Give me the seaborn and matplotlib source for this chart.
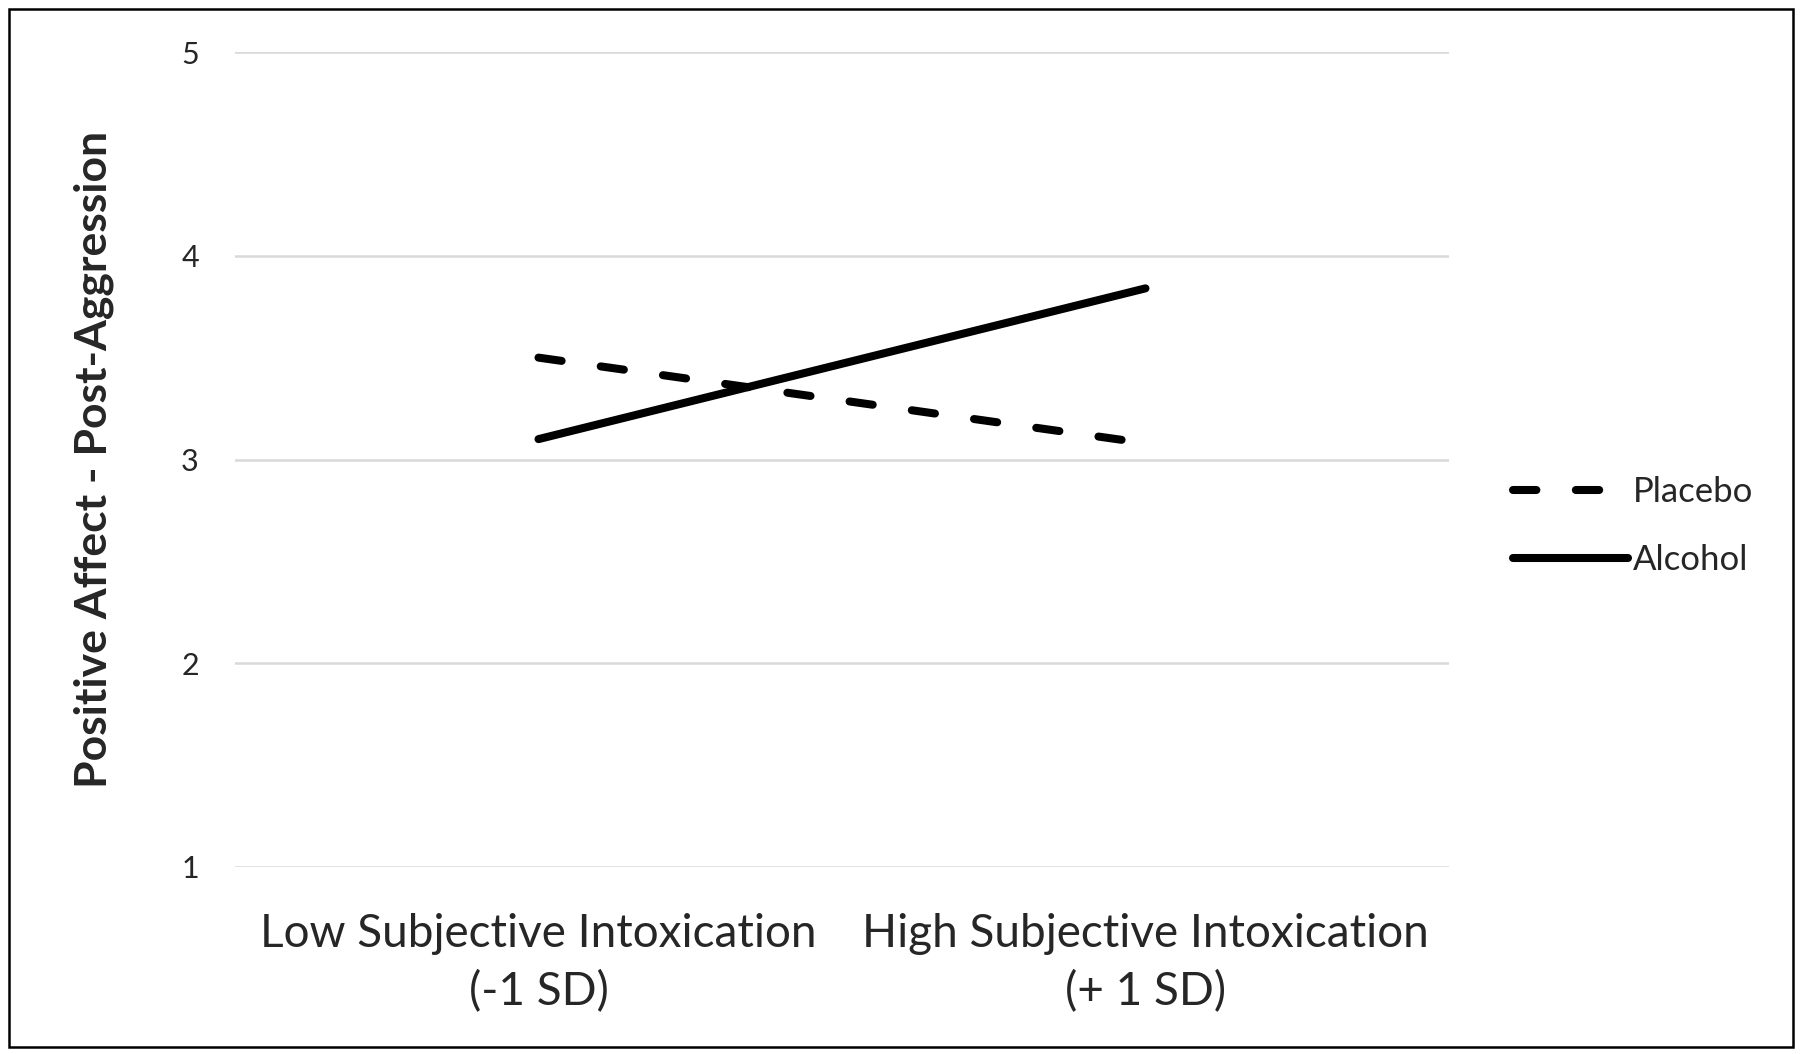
import pandas as pd
import matplotlib.pyplot as plt
import seaborn as sns
from matplotlib.patches import Rectangle

# values
levels    = ["Low Subjective Intoxication\n(-1 SD)", "High Subjective Intoxication\n(+ 1 SD)"]
placebo   = [3.50, 3.08]
alcohol   = [3.10, 3.84]
groups    = ["Placebo", "Alcohol"]
y_ticks   = [1, 2, 3, 4, 5]

df = pd.DataFrame({
    "level": levels * 2,
    "affect": placebo + alcohol,
    "group": [groups[0]] * 2 + [groups[1]] * 2,
})

sns.set_theme(style="white")
plt.rcParams['font.family'] = ['Lato', 'DejaVu Sans']
plt.rcParams['lines.dash_capstyle'] = 'round'
plt.rcParams['lines.solid_capstyle'] = 'round'

fig = plt.figure(figsize=(18, 10.54), dpi=100)
ax = fig.add_axes([235 / 1800, 1 - 867 / 1054, 1214 / 1800, 815 / 1054])

sns.lineplot(data=df, x="level", y="affect", style="group",
             style_order=groups, dashes={"Placebo": (2.9, 4.9), "Alcohol": ""},
             color="black", linewidth=5.8, legend=False, sort=False, ax=ax)

ax.set_xlim(-0.5, 1.5)
ax.set_ylim(1, 5)
ax.set_yticks(y_ticks)
ax.yaxis.grid(True, color="#d9d9d9", linewidth=1.8)
ax.xaxis.grid(False)
for s in ax.spines.values():
    s.set_visible(False)
ax.tick_params(axis="y", length=0, pad=26, labelsize=22)
ax.tick_params(axis="x", length=0, pad=33, labelsize=33)
for lbl in ax.get_xticklabels():
    lbl.set_linespacing(1.45)
ax.set_xlabel("")
ax.set_ylabel("Positive Affect - Post-Aggression", fontsize=32, fontweight="bold")
ax.yaxis.set_label_coords(-0.100, 0.5)

handles = ax.get_lines()[:2]
ax.legend(handles, groups, loc="center left", bbox_to_anchor=(1513 / 1800, 0.501),
          bbox_transform=fig.transFigure, frameon=False, fontsize=25,
          handlelength=3.3, handletextpad=0.15, labelspacing=1.05,
          borderpad=0, borderaxespad=0)

fig.patches.append(Rectangle((0.005, 0.0066), 0.991, 0.985, transform=fig.transFigure,
                             fill=False, edgecolor="black", linewidth=1.8))

plt.savefig("out.png", dpi=100)
